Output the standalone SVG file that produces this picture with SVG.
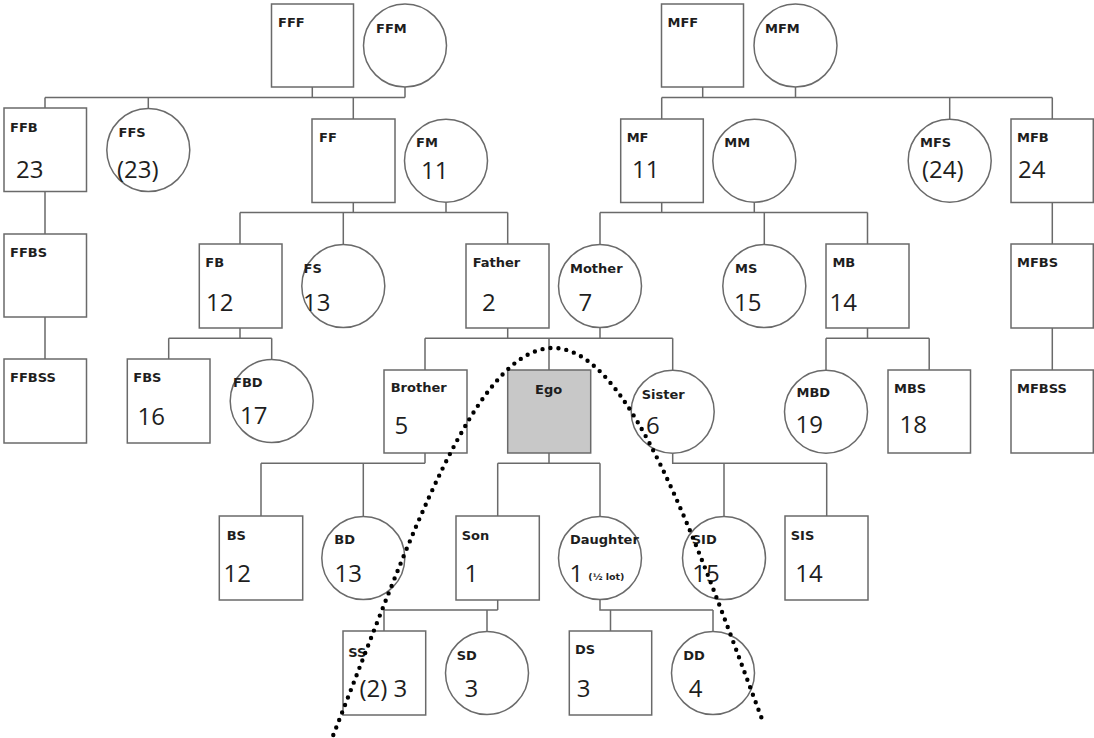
<svg xmlns="http://www.w3.org/2000/svg" width="1094" height="738" viewBox="0 0 1094 738">
<style>
.sq{fill:#fff;stroke:#6a6a6a;stroke-width:1.5}
.ci{fill:#fff;stroke:#6a6a6a;stroke-width:1.5}
.ego{fill:#c8c8c8;stroke:#6a6a6a;stroke-width:1.5}
.ln{fill:none;stroke:#6a6a6a;stroke-width:1.5}
.lb{font-family:"DejaVu Sans",Verdana,sans-serif;font-weight:bold;font-size:13px;fill:#1e1e1e}
.nm{font-family:"Open Sans","Noto Sans",sans-serif;font-size:24px;fill:#1e1e1e}
.sm{font-family:"DejaVu Sans",sans-serif;font-weight:bold;font-size:9.5px;fill:#1e1e1e}
.dot{fill:none;stroke:#000;stroke-width:4.4;stroke-linecap:round;stroke-dasharray:0 8}
</style>
<rect width="1094" height="738" fill="#fff"/>
<g id="connectors" class="ln">
<path d="M312.3,87V97.5M405,87V97.5M45,97.5H405M45,97.5V108M148.3,97.5V108.5M353.3,97.5V119"/>
<path d="M702.7,87V97.5M795.5,87V97.5M661.7,97.5H1052.3M661.7,97.5V119M949.7,97.5V119.2M1052.3,97.5V119"/>
<path d="M45,191.5V234M45,317V359M1052.3,202.5V244M1052.3,328V370"/>
<path d="M353.3,202.5V212.5M446,202.2V212.5M240,212.5H507.7M240,212.5V244M343.3,212.5V244.5M507.7,212.5V244"/>
<path d="M661.7,202.5V212.5M754.3,202.2V212.5M600,212.5H867.5M600,212.5V244.5M764.3,212.5V244.5M867.5,212.5V244"/>
<path d="M240,328V338.3M168.7,338.3H271.7M168.7,338.3V359M271.7,338.3V359.5"/>
<path d="M507.7,328V338.3M600,327.5V338.3M425,338.3H672.7M425,338.3V370M549,338.3V370M672.7,338.3V370.2"/>
<path d="M867.5,328V338.3M826,338.3H929.2M826,338.3V370.2M929.2,338.3V370"/>
<path d="M425,453V463.3M261,463.3H425M261,463.3V516M363.3,463.3V516.5"/>
<path d="M549,453V463.3M497.7,463.3H600M497.7,463.3V516M600,463.3V516.5"/>
<path d="M672.7,453.2V463.3H826.7M724,463.3V516.5M826.7,463.3V516"/>
<path d="M497.7,600V610M384,610H497.7M384,610V631M487,610V631.5"/>
<path d="M600,599.5V610H713M610.5,610V631M713,610V631.5"/>
</g>
<g id="FFF"><rect class="sq" x="271.5" y="4" width="82" height="83"/><text class="lb" x="278" y="27">FFF</text></g>
<g id="FFM"><circle class="ci" cx="405" cy="45.5" r="41.5"/><text class="lb" x="376" y="32.5">FFM</text></g>
<g id="MFF"><rect class="sq" x="661.5" y="4" width="82" height="83"/><text class="lb" x="667.5" y="27">MFF</text></g>
<g id="MFM"><circle class="ci" cx="795.5" cy="45.5" r="41.5"/><text class="lb" x="765" y="32.5">MFM</text></g>
<g id="FFB"><rect class="sq" x="4" y="108" width="82.5" height="83.5"/><text class="lb" x="10" y="132">FFB</text><text class="nm" x="16" y="178">23</text></g>
<g id="FFS"><circle class="ci" cx="148.3" cy="150" r="41.5"/><text class="lb" x="118.5" y="137">FFS</text><text class="nm" x="117" y="178">(23)</text></g>
<g id="FF"><rect class="sq" x="312" y="119" width="83" height="83.5"/><text class="lb" x="319" y="142">FF</text></g>
<g id="FM"><circle class="ci" cx="446" cy="160.7" r="41.5"/><text class="lb" x="416" y="147">FM</text><text class="nm" x="421" y="179">11</text></g>
<g id="MF"><rect class="sq" x="620.7" y="119" width="82.6" height="83.5"/><text class="lb" x="626.7" y="142">MF</text><text class="nm" x="632" y="178">11</text></g>
<g id="MM"><circle class="ci" cx="754.3" cy="160.7" r="41.5"/><text class="lb" x="724.3" y="147">MM</text></g>
<g id="MFS"><circle class="ci" cx="949.7" cy="160.7" r="41.5"/><text class="lb" x="920" y="147">MFS</text><text class="nm" x="922" y="178">(24)</text></g>
<g id="MFB"><rect class="sq" x="1011" y="119" width="82.3" height="83.5"/><text class="lb" x="1017" y="142">MFB</text><text class="nm" x="1018" y="178">24</text></g>
<g id="FFBS"><rect class="sq" x="4" y="234" width="82.5" height="83"/><text class="lb" x="10" y="257">FFBS</text></g>
<g id="FB"><rect class="sq" x="199.3" y="244" width="82.7" height="84"/><text class="lb" x="205.3" y="267">FB</text><text class="nm" x="206" y="311">12</text></g>
<g id="FS"><circle class="ci" cx="343.3" cy="286" r="41.5"/><text class="lb" x="303.5" y="273">FS</text><text class="nm" x="303" y="311">13</text></g>
<g id="Father"><rect class="sq" x="466" y="244" width="83" height="84"/><text class="lb" x="472.7" y="267">Father</text><text class="nm" x="482" y="311">2</text></g>
<g id="Mother"><circle class="ci" cx="600" cy="286" r="41.5"/><text class="lb" x="570" y="272.5">Mother</text><text class="nm" x="578.5" y="311">7</text></g>
<g id="MS"><circle class="ci" cx="764.3" cy="286" r="41.5"/><text class="lb" x="735" y="273">MS</text><text class="nm" x="734" y="311">15</text></g>
<g id="MB"><rect class="sq" x="826" y="244" width="83" height="84"/><text class="lb" x="832.4" y="267">MB</text><text class="nm" x="829.5" y="311">14</text></g>
<g id="MFBS"><rect class="sq" x="1011" y="244" width="82.3" height="84"/><text class="lb" x="1017" y="267">MFBS</text></g>
<g id="FFBSS"><rect class="sq" x="4" y="359" width="82.5" height="84"/><text class="lb" x="10" y="382">FFBSS</text></g>
<g id="FBS"><rect class="sq" x="127.3" y="359" width="82.7" height="84"/><text class="lb" x="133.3" y="382">FBS</text><text class="nm" x="137.5" y="425">16</text></g>
<g id="FBD"><circle class="ci" cx="271.7" cy="401" r="41.5"/><text class="lb" x="233" y="387">FBD</text><text class="nm" x="240" y="424">17</text></g>
<g id="Brother"><rect class="sq" x="384" y="370" width="83" height="83"/><text class="lb" x="390.7" y="392">Brother</text><text class="nm" x="394.5" y="433.5">5</text></g>
<g id="Ego"><rect class="ego" x="507.7" y="370" width="83" height="83"/><text class="lb" x="535" y="393.5">Ego</text></g>
<g id="Sister"><circle class="ci" cx="672.7" cy="411.7" r="41.5"/><text class="lb" x="641.7" y="398.5">Sister</text><text class="nm" x="646" y="433.5">6</text></g>
<g id="MBD"><circle class="ci" cx="826" cy="411.7" r="41.5"/><text class="lb" x="796.5" y="397">MBD</text><text class="nm" x="795.5" y="433">19</text></g>
<g id="MBS"><rect class="sq" x="888" y="370" width="82.5" height="83"/><text class="lb" x="894" y="393">MBS</text><text class="nm" x="899.5" y="433">18</text></g>
<g id="MFBSS"><rect class="sq" x="1011" y="370" width="82.3" height="83"/><text class="lb" x="1017" y="393">MFBSS</text></g>
<g id="BS"><rect class="sq" x="219.3" y="516" width="83.4" height="84"/><text class="lb" x="226.7" y="540">BS</text><text class="nm" x="223.5" y="582">12</text></g>
<g id="BD"><circle class="ci" cx="363.3" cy="558" r="41.5"/><text class="lb" x="334.3" y="544">BD</text><text class="nm" x="334.5" y="582">13</text></g>
<g id="Son"><rect class="sq" x="456" y="516" width="83.3" height="84"/><text class="lb" x="461.7" y="540">Son</text><text class="nm" x="464.5" y="582">1</text></g>
<g id="Daughter"><circle class="ci" cx="600" cy="558" r="41.5"/><text class="lb" x="570" y="544">Daughter</text><text class="nm" x="569.5" y="582">1</text><text class="sm" x="588.3" y="580">(½ lot)</text></g>
<g id="SID"><circle class="ci" cx="724" cy="558" r="41.5"/><text class="lb" x="691.7" y="544">SID</text><text class="nm" x="692.2" y="582">15</text></g>
<g id="SIS"><rect class="sq" x="785" y="516" width="83" height="84"/><text class="lb" x="790.7" y="539.5">SIS</text><text class="nm" x="795.2" y="582">14</text></g>
<g id="SS"><rect class="sq" x="343" y="631" width="82.7" height="84"/><text class="lb" x="348.3" y="657">SS</text><text class="nm" x="359.5" y="697">(2) 3</text></g>
<g id="SD"><circle class="ci" cx="487" cy="673" r="41.5"/><text class="lb" x="456.7" y="660">SD</text><text class="nm" x="464.5" y="697">3</text></g>
<g id="DS"><rect class="sq" x="569.3" y="631" width="82.4" height="84"/><text class="lb" x="575" y="654">DS</text><text class="nm" x="576.8" y="697">3</text></g>
<g id="DD"><circle class="ci" cx="713" cy="673" r="41.5"/><text class="lb" x="683.3" y="659.5">DD</text><text class="nm" x="688.8" y="697">4</text></g>
<g id="boundary"><path class="dot" d="M333.3,735 C410,540 475,348 553,348 C630,348 695,540 761.7,718.3"/></g>
</svg>
